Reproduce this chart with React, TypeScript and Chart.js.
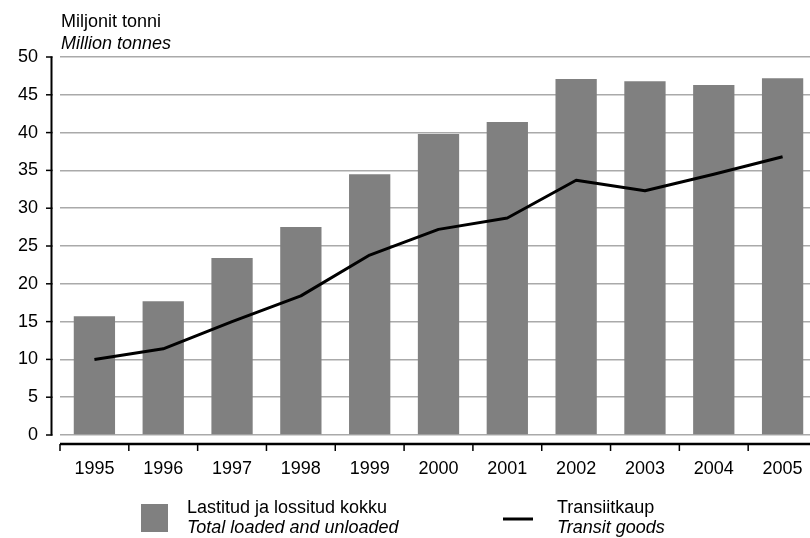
import React, { useEffect, useRef } from "react";
import { Chart, registerables } from "chart.js";

Chart.register(...registerables);

const years = ["1995", "1996", "1997", "1998", "1999", "2000", "2001", "2002", "2003", "2004", "2005"];
const totalLoaded = [15.7, 17.7, 23.4, 27.5, 34.5, 39.8, 41.4, 47.1, 46.8, 46.3, 47.2];
const transitGoods = [10.0, 11.4, 15.0, 18.4, 23.8, 27.2, 28.7, 33.7, 32.3, 34.5, 36.8];
const yTicks = [0, 5, 10, 15, 20, 25, 30, 35, 40, 45, 50];
const titleLines = ["Miljonit tonni", "Million tonnes"];
const legendBar = ["Lastitud ja lossitud kokku", "Total loaded and unloaded"];
const legendLine = ["Transiitkaup", "Transit goods"];

const FONT = '"Liberation Sans", Arial, Helvetica, sans-serif';
const BAR_COLOR = "#808080";

const decorPlugin = {
  id: "decor",
  afterDraw(chart: any) {
    const ctx = chart.ctx;
    const x = chart.scales.x;
    const y = chart.scales.y;
    const area = chart.chartArea;
    ctx.save();
    // Y axis line and ticks
    ctx.strokeStyle = "#000";
    ctx.lineWidth = 2;
    ctx.beginPath();
    ctx.moveTo(51.5, y.getPixelForValue(50) - 0.5);
    ctx.lineTo(51.5, y.getPixelForValue(0) + 0.5);
    ctx.stroke();
    ctx.lineWidth = 1.5;
    yTicks.forEach((v) => {
      const py = y.getPixelForValue(v);
      ctx.beginPath();
      ctx.moveTo(46, py);
      ctx.lineTo(52.5, py);
      ctx.stroke();
    });
    // X axis line and ticks
    const axisY = 444;
    ctx.lineWidth = 2.5;
    ctx.beginPath();
    ctx.moveTo(area.left, axisY);
    ctx.lineTo(area.right, axisY);
    ctx.stroke();
    ctx.lineWidth = 1.5;
    const half = (x.getPixelForValue(1) - x.getPixelForValue(0)) / 2;
    for (let i = 0; i <= years.length; i++) {
      const px = x.getPixelForValue(i) - half;
      ctx.beginPath();
      ctx.moveTo(px, axisY);
      ctx.lineTo(px, 451);
      ctx.stroke();
    }
    // Title
    ctx.fillStyle = "#000";
    ctx.textAlign = "left";
    ctx.textBaseline = "alphabetic";
    ctx.font = `18px ${FONT}`;
    ctx.fillText(titleLines[0], 61, 27);
    ctx.font = `italic 18px ${FONT}`;
    ctx.fillText(titleLines[1], 61, 49);
    // Legend
    ctx.fillStyle = BAR_COLOR;
    ctx.fillRect(141, 504, 27, 28);
    ctx.fillStyle = "#000";
    ctx.font = `18px ${FONT}`;
    ctx.fillText(legendBar[0], 187, 513);
    ctx.font = `italic 18px ${FONT}`;
    ctx.fillText(legendBar[1], 187, 533);
    ctx.strokeStyle = "#000";
    ctx.lineWidth = 3;
    ctx.beginPath();
    ctx.moveTo(503, 519);
    ctx.lineTo(533, 519);
    ctx.stroke();
    ctx.font = `18px ${FONT}`;
    ctx.fillText(legendLine[0], 557, 513);
    ctx.font = `italic 18px ${FONT}`;
    ctx.fillText(legendLine[1], 557, 533);
    ctx.restore();
  },
};

export default function App() {
  const canvasRef = useRef<HTMLCanvasElement | null>(null);

  useEffect(() => {
    if (!canvasRef.current) return;
    Chart.defaults.font.family = FONT;
    const chart = new Chart(canvasRef.current, {
      type: "bar",
      data: {
        labels: years,
        datasets: [
          {
            type: "line",
            label: legendLine[0],
            data: transitGoods,
            borderColor: "#000",
            borderWidth: 3,
            pointRadius: 0,
            tension: 0,
            fill: false,
            borderJoinStyle: "round",
            order: 0,
          } as any,
          {
            type: "bar",
            label: legendBar[0],
            data: totalLoaded,
            backgroundColor: BAR_COLOR,
            borderWidth: 0,
            categoryPercentage: 1,
            barPercentage: 0.6,
            order: 1,
          },
        ],
      },
      options: {
        animation: false,
        responsive: true,
        maintainAspectRatio: false,
        layout: { padding: { top: 57, left: 0, right: 13, bottom: 0 } },
        plugins: {
          legend: { display: false },
          tooltip: { enabled: false },
          title: { display: false },
        },
        scales: {
          x: {
            grid: { display: false, drawTicks: false },
            border: { display: false },
            ticks: { color: "#000", font: { size: 18, family: FONT }, padding: 23, maxRotation: 0, autoSkip: false },
            afterFit: (scale: any) => {
              scale.height = 103;
            },
          },
          y: {
            min: 0,
            max: 50,
            grid: { color: "#aaaaaa", lineWidth: 1.5, drawTicks: false },
            border: { display: false },
            ticks: { stepSize: 5, color: "#000", font: { size: 18, family: FONT }, padding: 22 },
            afterFit: (scale: any) => {
              scale.width = 60;
            },
          },
        },
      },
      plugins: [decorPlugin],
    });
    return () => chart.destroy();
  }, []);

  return (
    <div style={{ position: "fixed", left: 0, top: 0, width: 810, height: 538, overflow: "hidden", background: "#fff" }}>
      <div style={{ position: "relative", width: 830, height: 538 }}>
        <canvas ref={canvasRef} />
      </div>
    </div>
  );
}
